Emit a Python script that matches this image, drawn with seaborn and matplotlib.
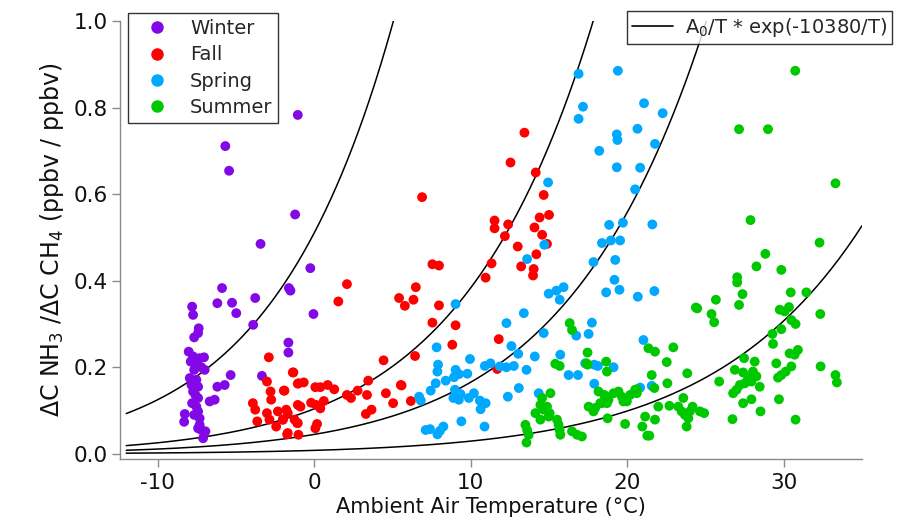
import numpy as np
import pandas as pd
import matplotlib
matplotlib.use("Agg")
import matplotlib.pyplot as plt
import seaborn as sns
from matplotlib.lines import Line2D

# ---------------- data ----------------
seasons = ["Winter", "Fall", "Spring", "Summer"]
season_colors = ["#8208E6", "#FF0000", "#00A8FF", "#00C800"]

winter_t = [-1.04, -5.67, -5.43, -1.21, -3.42, -5.88, -6.18, -5.24, -4.97, -3.76, -3.89, -1.61,
            -1.51, -1.64, -1.64, -3.33, -5.33, -5.71, -6.18, -6.35, -6.67, -8.26, -8.30,
            -7.79, -7.73, -7.37, -7.41, -7.66, -8.01, -7.73, -7.31, -7.03, -7.88, -7.45, -7.20,
            -7.66, -6.99, -7.94, -7.52, -7.83, -7.41, -7.73, -7.58, -7.41, -7.79, -7.52, -7.41,
            -7.66, -7.31, -7.41, -7.20, -6.94, -7.09, -7.31, -0.24, -0.04, -2.00]
winter_v = [0.783, 0.711, 0.654, 0.553, 0.485, 0.383, 0.348, 0.349, 0.325, 0.360, 0.298, 0.383,
            0.377, 0.257, 0.234, 0.180, 0.182, 0.159, 0.155, 0.125, 0.121, 0.092, 0.074,
            0.340, 0.321, 0.290, 0.279, 0.269, 0.236, 0.225, 0.221, 0.223, 0.213, 0.206, 0.200,
            0.194, 0.194, 0.175, 0.171, 0.159, 0.155, 0.144, 0.136, 0.129, 0.117, 0.109, 0.098,
            0.090, 0.082, 0.059, 0.055, 0.052, 0.036, 0.067, 0.429, 0.323, 0.079]

fall_t = [-2.89, -1.36, -1.04, -1.93, -3.01, -2.78, -2.74, -3.91, -3.76, -3.01, -2.31, -1.68,
          -2.85, -2.42, -3.63, -1.68, -1.04, -1.04, -1.99, 13.44, 12.55, 14.16, 6.90, 14.67,
          11.53, 11.53, 12.40, 12.19, 14.41, 15.01, 14.08, 14.57, 14.88, 13.01, 14.20, 11.34,
          13.23, 14.03, 13.99, 10.96, 7.56, 7.98, 6.50, 5.43, 6.35, 5.80, 7.98, 2.10, 1.55,
          7.56, 9.04, 8.83, 11.80, 6.45, 4.44, 11.70, -1.32, -0.98, -0.66, 0.08, 0.40, 0.87,
          1.29, -1.89, 2.78, 3.46, 2.10, 2.36, 3.38, 4.59, 5.59, 5.05, 6.18, -0.19, 0.13, 0.62,
          0.40, -0.87, -1.78, -1.25, -1.08, 3.31, 3.67, 0.19, 0.08, -1.72, -1.00, 5.54]
fall_v = [0.223, 0.188, 0.162, 0.146, 0.167, 0.144, 0.125, 0.117, 0.102, 0.094, 0.098, 0.094,
          0.079, 0.063, 0.075, 0.048, 0.113, 0.071, 0.079, 0.742, 0.673, 0.650, 0.593, 0.598,
          0.539, 0.521, 0.530, 0.503, 0.546, 0.552, 0.523, 0.506, 0.485, 0.479, 0.461, 0.440,
          0.433, 0.427, 0.412, 0.407, 0.438, 0.435, 0.385, 0.360, 0.356, 0.342, 0.343, 0.392, 0.352,
          0.303, 0.297, 0.252, 0.265, 0.226, 0.216, 0.196, 0.188, 0.163, 0.165, 0.154, 0.154, 0.159,
          0.149, 0.146, 0.146, 0.169, 0.136, 0.129, 0.136, 0.140, 0.158, 0.117, 0.122, 0.118, 0.113, 0.122,
          0.105, 0.109, 0.102, 0.079, 0.071, 0.092, 0.102, 0.069, 0.059, 0.045, 0.044, 0.159]

spring_t = [16.90, 19.41, 17.18, 16.90, 21.08, 22.27, 20.66, 19.34, 19.38, 18.22, 21.78, 19.34,
            20.83, 20.51, 14.95, 18.85, 19.73, 21.61, 18.39, 18.96, 19.55, 17.85, 19.24, 19.19,
            18.66, 19.51, 20.68, 21.74, 14.71, 13.61, 14.99, 15.48, 15.94, 15.69, 9.04, 13.40,
            12.29, 14.67, 17.75, 17.54, 16.75, 21.04, 12.61, 7.83, 13.04, 14.10, 15.73, 9.96,
            7.92, 7.88, 9.04, 9.25, 8.94, 9.79, 8.41, 7.77, 7.45, 10.91, 11.27, 11.87, 12.29,
            12.76, 13.57, 16.26, 16.86, 17.32, 17.90, 18.13, 19.13, 13.08, 9.00, 9.36, 8.90,
            9.25, 9.89, 10.21, 10.59, 10.96, 10.64, 10.89, 12.38, 14.35, 17.90, 20.83, 6.71,
            6.82, 7.13, 7.41, 7.88, 8.26, 8.04, 9.41, 21.57]
spring_v = [0.878, 0.885, 0.802, 0.774, 0.810, 0.787, 0.751, 0.738, 0.725, 0.700, 0.716, 0.662,
            0.661, 0.611, 0.627, 0.529, 0.534, 0.530, 0.487, 0.493, 0.493, 0.443, 0.448, 0.402,
            0.373, 0.379, 0.363, 0.376, 0.483, 0.450, 0.370, 0.377, 0.385, 0.356, 0.346, 0.325,
            0.302, 0.279, 0.303, 0.277, 0.273, 0.263, 0.249, 0.246, 0.231, 0.225, 0.229, 0.219,
            0.206, 0.190, 0.194, 0.184, 0.177, 0.185, 0.169, 0.163, 0.146, 0.203, 0.209, 0.202, 0.200,
            0.203, 0.194, 0.182, 0.182, 0.209, 0.206, 0.203, 0.200, 0.152, 0.148, 0.138, 0.129,
            0.125, 0.129, 0.140, 0.123, 0.117, 0.103, 0.063, 0.132, 0.140, 0.162, 0.153, 0.132,
            0.123, 0.055, 0.057, 0.045, 0.063, 0.053, 0.075, 0.157]

summer_t = [30.74, 27.15, 29.00, 33.31, 27.88, 32.29, 28.83, 28.26, 29.85, 27.03, 27.03, 27.37,
            27.15, 25.67, 24.48, 25.39, 25.56, 30.45, 31.45, 32.34, 29.75, 30.06, 30.34, 30.49,
            30.76, 29.85, 29.28, 29.32, 30.91, 30.38, 30.70, 32.36, 33.31, 33.40, 30.76, 29.70,
            29.53, 30.49, 30.13, 29.85, 29.64, 27.47, 28.15, 26.88, 27.41, 28.04, 28.26, 27.73,
            27.94, 27.52, 27.20, 26.99, 26.77, 27.41, 28.47, 27.94, 28.52, 26.73, 25.88, 23.84,
            22.95, 21.36, 21.78, 22.53, 21.57, 22.57, 21.74, 20.51, 20.62, 21.99, 22.70, 21.15,
            21.78, 20.97, 21.29, 23.27, 23.59, 23.48, 23.69, 23.91, 24.01, 24.18, 23.80, 24.65,
            24.92, 19.87, 18.75, 18.17, 18.66, 19.13, 19.45, 19.66, 19.98, 18.39, 17.96, 17.54,
            18.71, 17.47, 17.47, 17.40, 18.66, 18.71, 16.33, 16.48, 15.41, 15.69, 15.10, 14.57,
            14.46, 14.67, 14.14, 14.88, 15.05, 13.50, 13.61, 13.57, 13.71, 15.52, 15.62, 15.73,
            15.69, 16.48, 16.80, 17.11, 14.99, 14.46, 18.54, 18.81, 19.76, 20.19, 17.85, 18.28,
            21.42, 20.62, 24.39]
summer_v = [0.885, 0.750, 0.750, 0.625, 0.540, 0.488, 0.462, 0.433, 0.425, 0.408, 0.396, 0.369,
            0.344, 0.356, 0.336, 0.323, 0.304, 0.373, 0.373, 0.323, 0.333, 0.329, 0.339, 0.309,
            0.300, 0.288, 0.277, 0.254, 0.240, 0.232, 0.229, 0.202, 0.182, 0.165, 0.079, 0.126,
            0.209, 0.202, 0.190, 0.182, 0.176, 0.221, 0.213, 0.194, 0.188, 0.190, 0.179, 0.175,
            0.167, 0.163, 0.159, 0.148, 0.140, 0.117, 0.155, 0.126, 0.098, 0.080, 0.167, 0.186,
            0.246, 0.244, 0.236, 0.212, 0.182, 0.163, 0.152, 0.148, 0.140, 0.109, 0.111, 0.086,
            0.079, 0.063, 0.042, 0.109, 0.129, 0.098, 0.090, 0.082, 0.098, 0.109, 0.063, 0.098,
            0.094, 0.069, 0.082, 0.144, 0.132, 0.140, 0.144, 0.132, 0.121, 0.117, 0.106, 0.109,
            0.117, 0.234, 0.206, 0.209, 0.213, 0.190, 0.302, 0.286, 0.208, 0.203, 0.140, 0.129,
            0.113, 0.102, 0.094, 0.109, 0.094, 0.067, 0.055, 0.026, 0.044, 0.079, 0.067, 0.044,
            0.055, 0.052, 0.044, 0.040, 0.086, 0.079, 0.136, 0.125, 0.121, 0.136, 0.098, 0.117,
            0.042, 0.149, 0.338]

# curve prefactors A0 for A0/T * exp(-10380/T), T in Kelvin
curve_A0 = [4.44e18, 9.04e17, 3.90e17, 6.91e16]
curve_T_range = [-12.0, 35.0]
activation = 10380.0

x_ticks = [-10, 0, 10, 20, 30]
y_ticks = [0.0, 0.2, 0.4, 0.6, 0.8, 1.0]

# ---------------- build frame ----------------
frames = []
for name, t, v in zip(seasons, [winter_t, fall_t, spring_t, summer_t],
                      [winter_v, fall_v, spring_v, summer_v]):
    frames.append(pd.DataFrame({"T": t, "ratio": v, "season": name}))
df = pd.concat(frames, ignore_index=True)

curve_rows = []
tgrid = np.linspace(curve_T_range[0], curve_T_range[1], 400)
for i, a0 in enumerate(curve_A0):
    tk = tgrid + 273.15
    curve_rows.append(pd.DataFrame({"T": tgrid, "val": a0 / tk * np.exp(-activation / tk), "curve": i}))
curves = pd.concat(curve_rows, ignore_index=True)

# ---------------- style ----------------
sns.set_style("ticks")
plt.rcParams["font.family"] = ["DejaVu Sans"]
plt.rcParams["mathtext.fontset"] = "dejavusans"

fig = plt.figure(figsize=(9, 5.25), dpi=100)
ax = fig.add_axes([0.1333, 0.1257, 0.8244, 0.8343])

sns.lineplot(data=curves, x="T", y="val", units="curve", estimator=None, color="black",
             lw=1.1, ax=ax, legend=False, sort=False)
sns.scatterplot(data=df, x="T", y="ratio", hue="season", hue_order=seasons,
                palette=season_colors, s=50, linewidth=0, ax=ax, legend=False, zorder=3)

ax.set_xlim(-12.4, 35.0)
ax.set_ylim(-0.012, 1.0)
ax.set_xticks(x_ticks)
ax.set_xticklabels([str(x) for x in x_ticks])
ax.set_yticks(y_ticks)
ax.set_yticklabels([f"{y:.1f}" for y in y_ticks])

for side in ["top", "right"]:
    ax.spines[side].set_visible(False)
for side in ["left", "bottom"]:
    ax.spines[side].set_color("#8a8a8a")
    ax.spines[side].set_linewidth(1.0)
ax.tick_params(axis="both", direction="out", length=6, width=1.0, color="#8a8a8a",
               labelsize=15.5, labelcolor="#111111", pad=3)
ax.tick_params(axis="x", pad=4)

ax.set_xlabel("Ambient Air Temperature (°C)", fontsize=15, color="#111111", labelpad=3)
ax.set_ylabel(r"ΔC NH$_3$ /ΔC CH$_4$ (ppbv / ppbv)", fontsize=17, color="#111111", labelpad=5)

# legends
handles = [Line2D([0], [0], marker="o", linestyle="none", markersize=9,
                  markerfacecolor=c, markeredgewidth=0) for c in season_colors]
leg1 = fig.legend(handles, seasons, loc="upper left", bbox_to_anchor=(0.142, 0.975),
                  bbox_transform=fig.transFigure, frameon=True, fancybox=False,
                  fontsize=14, labelspacing=0.38, handletextpad=0.5, borderpad=0.3,
                  handlelength=2.4, borderaxespad=0)
leg1.get_frame().set_edgecolor("black")
leg1.get_frame().set_linewidth(1.0)

line_handle = [Line2D([0], [0], color="black", lw=1.2)]
leg2 = fig.legend(line_handle, [r"A$_0$/T * exp(-10380/T)"], loc="upper right",
                  bbox_to_anchor=(0.991, 0.979), bbox_transform=fig.transFigure,
                  frameon=True, fancybox=False, fontsize=14, handlelength=2.1,
                  handletextpad=0.6, borderpad=0.25, borderaxespad=0)
leg2.get_frame().set_edgecolor("black")
leg2.get_frame().set_linewidth(1.0)

fig.savefig("out.png", dpi=100)
